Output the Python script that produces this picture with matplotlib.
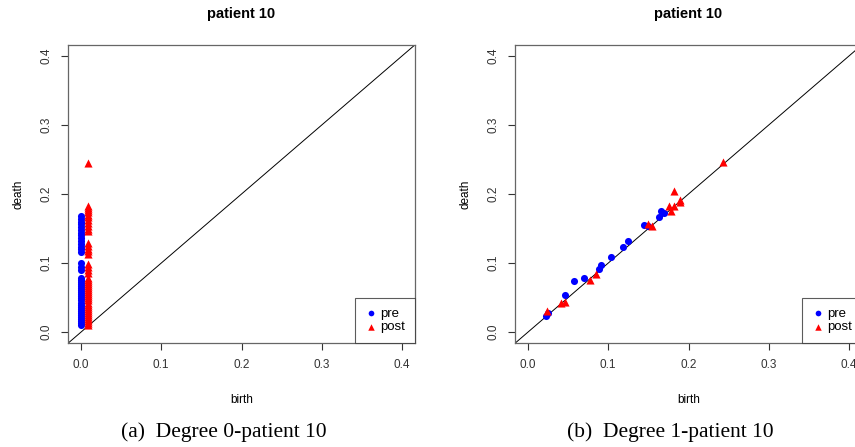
#import python libraries
import matplotlib
matplotlib.use('Agg')
import matplotlib.pyplot as plt
import numpy as np

# persistence diagram values
# degree 0: pre points all born at 0, post points born just after 0
deg0_pre_birth = [0.0] * 41
deg0_pre_death = [0.010, 0.013, 0.016, 0.019, 0.022, 0.025, 0.028, 0.031, 0.034, 0.037,
                  0.040, 0.043, 0.046, 0.049, 0.052, 0.055, 0.058, 0.061, 0.064, 0.067,
                  0.070, 0.073, 0.076, 0.079, 0.090, 0.094, 0.100, 0.116, 0.120, 0.124,
                  0.128, 0.132, 0.136, 0.140, 0.144, 0.148, 0.152, 0.156, 0.160, 0.164,
                  0.168]
deg0_post_birth = [0.0087] * 45
deg0_post_death = [0.010, 0.013, 0.016, 0.019, 0.022, 0.025, 0.028, 0.031, 0.034, 0.037,
                   0.040, 0.043, 0.046, 0.049, 0.052, 0.055, 0.058, 0.061, 0.064, 0.067,
                   0.070, 0.073, 0.076, 0.079, 0.086, 0.090, 0.094, 0.098, 0.113, 0.117,
                   0.121, 0.125, 0.129, 0.146, 0.150, 0.154, 0.158, 0.162, 0.166, 0.170,
                   0.174, 0.177, 0.180, 0.183, 0.245]

# degree 1
deg1_pre_birth = [0.022, 0.025, 0.046, 0.058, 0.070, 0.088, 0.091, 0.104, 0.119, 0.125,
                  0.144, 0.150, 0.163, 0.166, 0.169]
deg1_pre_death = [0.023, 0.028, 0.054, 0.074, 0.079, 0.092, 0.097, 0.109, 0.124, 0.132,
                  0.155, 0.154, 0.166, 0.175, 0.173]
deg1_post_birth = [0.024, 0.041, 0.046, 0.077, 0.085, 0.149, 0.154, 0.178, 0.176, 0.182,
                   0.182, 0.189, 0.189, 0.243]
deg1_post_death = [0.031, 0.042, 0.044, 0.076, 0.084, 0.156, 0.153, 0.176, 0.182, 0.183,
                   0.205, 0.192, 0.188, 0.246]

ticks = [0.0, 0.1, 0.2, 0.3, 0.4]
captions = ['(a)  Degree 0-patient 10', '(b)  Degree 1-patient 10']

plt.rcParams['font.family'] = ['Liberation Sans', 'DejaVu Sans']

fig = plt.figure(figsize=(8.55, 4.47), dpi=100)

# axes positions in figure fractions (the right panel runs off the edge like in the original)
positions = [[0.0795, 0.232, 0.406, 0.668], [0.6023, 0.232, 0.406, 0.668]]
data = [(deg0_pre_birth, deg0_pre_death, deg0_post_birth, deg0_post_death),
        (deg1_pre_birth, deg1_pre_death, deg1_post_birth, deg1_post_death)]

for i in range(2):
    ax = fig.add_axes(positions[i])
    pre_b, pre_d, post_b, post_d = data[i]
    ax.plot([-0.02, 0.42], [-0.02, 0.42], color='black', lw=0.7, zorder=1) #diagonal line
    ax.scatter(pre_b, pre_d, s=26, marker='o', color='#0000ff', linewidths=0, label='pre', zorder=2)
    ax.scatter(post_b, post_d, s=34, marker='^', color='#ff0000', linewidths=0, label='post', zorder=3)
    ax.set_xlim(-0.016, 0.416)
    ax.set_ylim(-0.016, 0.416)
    ax.set_xticks(ticks)
    ax.set_yticks(ticks)
    ax.set_xticklabels([f'{t:.1f}' for t in ticks])
    ax.set_yticklabels([f'{t:.1f}' for t in ticks], rotation=90, va='center')
    ax.tick_params(direction='out', length=5, width=0.8, labelsize=8.5, pad=6, colors='#333333')
    for sp in ax.spines.values():
        sp.set_color('#666666')
        sp.set_linewidth(0.9)
    ax.set_xlabel('birth', fontsize=8.5, labelpad=17)
    ax.set_ylabel('death', fontsize=8.5, labelpad=12)
    ax.set_title('patient 10', fontsize=10.5, fontweight='bold', pad=19)
    leg = ax.legend(loc='lower right', fontsize=9.5, frameon=True, fancybox=False,
                    borderpad=0.75, handletextpad=0.2, handlelength=1.0, labelspacing=0.1,
                    borderaxespad=0, markerscale=0.8)
    leg.get_frame().set_edgecolor('#333333')
    leg.get_frame().set_linewidth(0.8)
    # caption below each panel
    fig.text(positions[i][0] + 0.182, 0.022, captions[i], fontsize=15.5, ha='center',
             family='Liberation Serif')

plt.savefig('out.png', dpi=100)
